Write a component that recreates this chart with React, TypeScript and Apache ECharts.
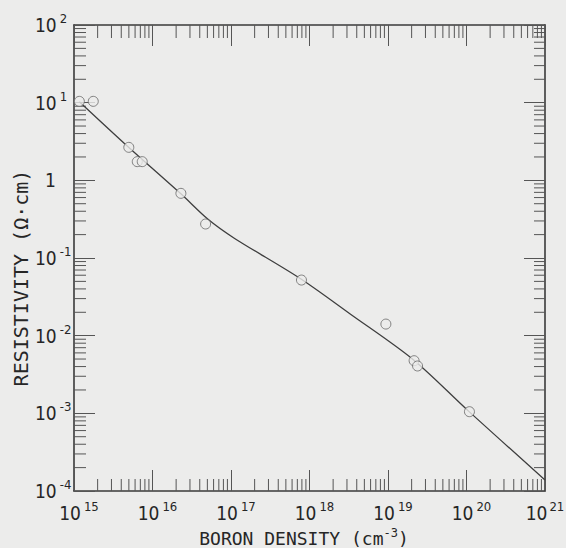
import React, { useEffect, useRef } from "react";
import * as echarts from "echarts";

// Measured samples: boron density (cm^-3) vs resistivity (ohm·cm)
const densityPoints = [1.17e15, 1.76e15, 4.99e15, 6.4e15, 7.4e15, 2.3e16, 4.75e16, 7.9e17, 9.4e18, 2.15e19, 2.38e19, 1.09e20];
const resistivityPoints = [10.4, 10.4, 2.66, 1.74, 1.74, 0.68, 0.274, 0.052, 0.0141, 0.00476, 0.00407, 0.00105];

// Reference curve through the measurements
const curveDensity = [1.17e15, 5e15, 2.3e16, 5.1e16, 1.1e17, 7.7e17, 3.3e18, 2.1e19, 1.07e20, 1e21];
const curveResistivity = [10.3, 2.65, 0.67, 0.315, 0.18, 0.054, 0.019, 0.0049, 0.00106, 0.000139];

// Axis ranges and tick layout (decade exponents, minor multipliers)
const xMin = 1e15;
const xMax = 1e21;
const yMin = 1e-4;
const yMax = 1e2;
const xDecades = [15, 16, 17, 18, 19, 20];
const yDecades = [-4, -3, -2, -1, 0, 1];
const minorSteps = [2, 3, 4, 5, 6, 7, 8, 9];

const bg = "#ececeb";
const ink = "#262626";
const axisColor = "#3a3a3a";
const tickColor = "#555555";
const numFont = "'Liberation Sans Narrow', 'DejaVu Sans Condensed', sans-serif";
const titleFont = "'DejaVu Sans Mono', monospace";

const minorX = xDecades.flatMap((d) => minorSteps.map((m) => m * Math.pow(10, d)));
const minorY = yDecades.flatMap((d) => minorSteps.map((m) => m * Math.pow(10, d)));

const expOf = (v: number) => Math.round(Math.log10(v));
const xMaxExp = expOf(xMax);

const labelRich: any = {
  b: { fontFamily: numFont, fontSize: 19, lineHeight: 26, color: ink },
  bx: { fontFamily: numFont, fontSize: 19, lineHeight: 26, color: ink, padding: [0, 0, 0, 10] },
  bxEnd: { fontFamily: numFont, fontSize: 19, lineHeight: 26, color: ink },
  s: { fontFamily: numFont, fontSize: 13, lineHeight: 13, verticalAlign: "top", color: ink, padding: [0, 0, 0, 3] },
  sEnd: { fontFamily: numFont, fontSize: 13, lineHeight: 13, verticalAlign: "top", color: ink, padding: [0, 0, 0, 2] },
  one: { fontFamily: numFont, fontSize: 19, lineHeight: 26, color: ink, padding: [0, 0, 0, 10] },
};

const frameAxis = {
  axisLine: { show: true, lineStyle: { color: axisColor, width: 1.6 } },
  axisTick: { show: true, inside: true, length: 21, lineStyle: { color: tickColor, width: 1 } },
  splitLine: { show: false },
  minorTick: { show: false },
};

function buildOption(): any {
  return {
    animation: false,
    backgroundColor: bg,
    grid: { left: 74, top: 25, right: 21, bottom: 57, containLabel: false, outerBoundsMode: "none" },
    xAxis: [
      {
        type: "log",
        logBase: 10,
        min: xMin,
        max: xMax,
        position: "bottom",
        ...frameAxis,
        axisLabel: {
          show: true,
          margin: 9,
          showMinLabel: true,
          showMaxLabel: true,
          formatter: (v: number) => {
            const e = expOf(v);
            return e >= xMaxExp ? `{bxEnd|10}{sEnd|${e}}` : `{bx|10}{s|${e}}`;
          },
          rich: labelRich,
        },
      },
      {
        type: "log",
        logBase: 10,
        min: xMin,
        max: xMax,
        position: "top",
        ...frameAxis,
        axisLabel: { show: false },
      },
    ],
    yAxis: [
      {
        type: "log",
        logBase: 10,
        min: yMin,
        max: yMax,
        position: "left",
        ...frameAxis,
        axisLabel: {
          show: true,
          margin: 39,
          align: "left",
          showMinLabel: true,
          showMaxLabel: true,
          formatter: (v: number) => {
            const e = expOf(v);
            return e === 0 ? "{one|1}" : `{b|10}{s|${e}}`;
          },
          rich: labelRich,
        },
      },
      {
        type: "log",
        logBase: 10,
        min: yMin,
        max: yMax,
        position: "right",
        ...frameAxis,
        axisLabel: { show: false },
      },
    ],
    series: [
      {
        type: "custom",
        xAxisIndex: 0,
        yAxisIndex: 0,
        silent: true,
        clip: false,
        z: 1,
        data: minorX.map((v) => [v, 1]),
        renderItem: (_p: any, api: any) => {
          const x = api.value(0);
          const b = api.coord([x, yMin]);
          const t = api.coord([x, yMax]);
          return {
            type: "group",
            children: [
              { type: "line", shape: { x1: b[0], y1: b[1], x2: b[0], y2: b[1] - 12 }, style: { stroke: tickColor, lineWidth: 1 } },
              { type: "line", shape: { x1: t[0], y1: t[1], x2: t[0], y2: t[1] + 13 }, style: { stroke: tickColor, lineWidth: 1 } },
            ],
          };
        },
      },
      {
        type: "custom",
        xAxisIndex: 0,
        yAxisIndex: 0,
        silent: true,
        clip: false,
        z: 1,
        data: minorY.map((v) => [1e18, v]),
        renderItem: (_p: any, api: any) => {
          const y = api.value(1);
          const l = api.coord([xMin, y]);
          const r = api.coord([xMax, y]);
          return {
            type: "group",
            children: [
              { type: "line", shape: { x1: l[0], y1: l[1], x2: l[0] + 12, y2: l[1] }, style: { stroke: tickColor, lineWidth: 1 } },
              { type: "line", shape: { x1: r[0], y1: r[1], x2: r[0] - 11, y2: r[1] }, style: { stroke: tickColor, lineWidth: 1 } },
            ],
          };
        },
      },
      {
        type: "line",
        data: curveDensity.map((d, i) => [d, curveResistivity[i]]),
        smooth: 0.3,
        showSymbol: false,
        silent: true,
        z: 2,
        lineStyle: { color: "#3e3e3e", width: 1.3 },
      },
      {
        type: "scatter",
        data: densityPoints.map((d, i) => [d, resistivityPoints[i]]),
        symbol: "circle",
        symbolSize: 10,
        silent: true,
        z: 3,
        itemStyle: { color: bg, borderColor: "#666666", borderWidth: 1 },
      },
    ],
    graphic: [
      {
        type: "text",
        x: 21,
        y: 278,
        rotation: Math.PI / 2,
        style: {
          text: "RESISTIVITY (Ω·cm)",
          fill: ink,
          fontFamily: titleFont,
          fontSize: 20,
          align: "center",
          verticalAlign: "middle",
        },
      },
      {
        type: "text",
        x: 304,
        y: 538,
        style: {
          text: "{t|BORON DENSITY (cm}{s|-3}{t|)}",
          fill: ink,
          align: "center",
          verticalAlign: "middle",
          rich: {
            t: { fontFamily: titleFont, fontSize: 18, lineHeight: 22, fill: ink },
            s: { fontFamily: titleFont, fontSize: 12, lineHeight: 12, verticalAlign: "top", fill: ink },
          },
        },
      },
    ],
  };
}

export default function App() {
  const ref = useRef<HTMLDivElement>(null);
  useEffect(() => {
    if (!ref.current) return;
    const chart = echarts.init(ref.current, null, { renderer: "svg" });
    chart.setOption(buildOption());
    return () => chart.dispose();
  }, []);
  return <div ref={ref} style={{ position: "fixed", left: 0, top: 0, width: 566, height: 548 }} />;
}
